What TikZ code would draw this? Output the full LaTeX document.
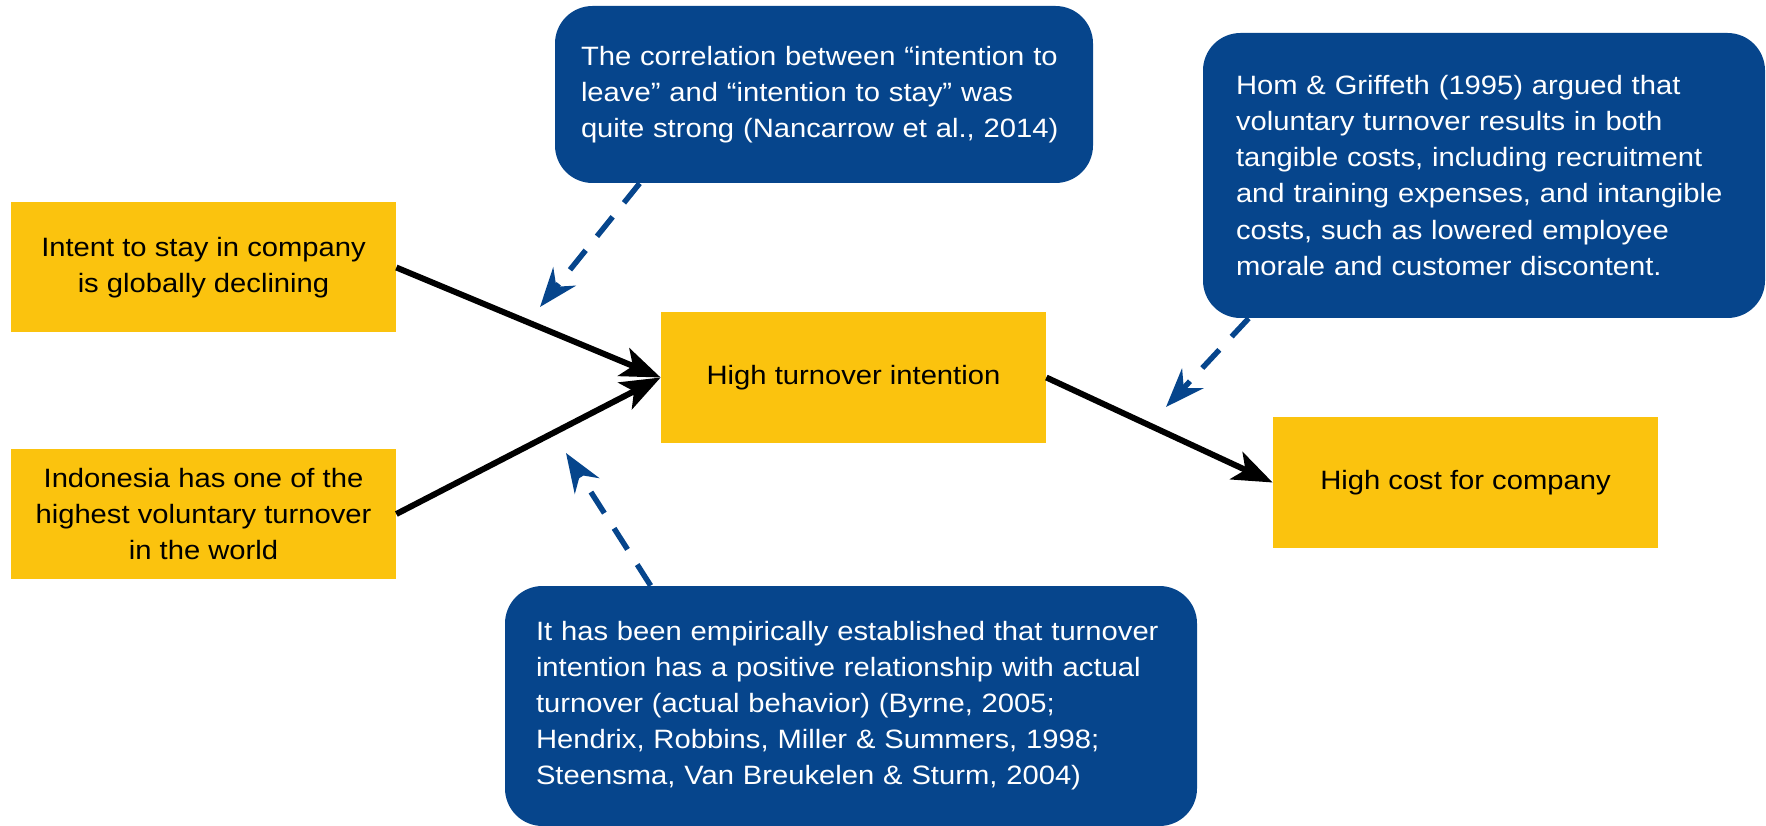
\documentclass[tikz,border=0pt]{standalone}
\usepackage{fontspec}
\setmainfont[FakeStretch=1.1]{Liberation Sans}
\usepackage{tikz}
\usetikzlibrary{arrows.meta}
\definecolor{causeyellow}{RGB}{251,195,14}
\definecolor{noteblue}{RGB}{6,69,140}
\tikzset{font=\fontsize{15.1pt}{20.5pt}\selectfont}

\begin{document}
\begin{tikzpicture}[cause/.style={fill=causeyellow,minimum width={7.7cm},minimum height={2.6cm},align=center},
    note/.style={fill=noteblue,text=white,rounded corners=0.75cm,align=left},
    flow/.style={-{Stealth[length=0.8cm,width=0.6cm,inset=0.2cm]},line width=3.4pt,black},
    hint/.style={-{Stealth[length=0.78cm,width=0.58cm,inset=0.26cm]},line width=3.1pt,noteblue,dash pattern=on 0.5cm off 0.36cm}]
      \useasboundingbox (0,0) rectangle (35.32,16.5);

      \node[cause] (I0) at (4.07,11.15) {Intent to stay in company\\is globally declining};
      \node[cause] (I1) at (4.07,6.22) {Indonesia has one of the\\highest voluntary turnover\\in the world};
      \node[cause] (H) at (17.07,8.95) {High turnover intention};
      \node[cause] (C) at (29.31,6.85) {High cost for company};

      \node[note,inner xsep=0.52cm,text width=9.72cm,minimum height={3.54cm}] (N0) at (16.48,14.61)
        {The correlation between “intention to\\leave” and “intention to stay” was\\quite strong (Nancarrow et al., 2014)};
      \node[note,inner xsep=0.66cm,text width=9.92cm,minimum height={5.7cm}] (N1) at (29.68,12.99)
        {Hom \& Griffeth (1995) argued that\\voluntary turnover results in both\\tangible costs, including recruitment\\and training expenses, and intangible\\costs, such as lowered employee\\morale and customer discontent.};
      \node[note,inner xsep=0.62cm,text width=12.6cm,minimum height={4.8cm}] (N2) at (17.02,2.38)
        {It has been empirically established that turnover\\intention has a positive relationship with actual\\turnover (actual behavior) (Byrne, 2005;\\Hendrix, Robbins, Miller \& Summers, 1998;\\Steensma, Van Breukelen \& Sturm, 2004)};

      \coordinate (T0) at (10.80,10.36);
      \coordinate (T1) at (23.32,8.36);
      \coordinate (T2) at (11.32,7.44);

      \path [flow](I0.east) edge node {} (H.west);
      \path [flow](I1.east) edge node {} (H.west);
      \path [flow](H.east) edge node {} (C.west);

      \path [hint]([xshift=1.70cm]N0.south west) edge node {} (T0);
      \path [hint]([xshift=0.92cm]N1.south west) edge node {} (T1);
      \path [hint]([xshift=2.92cm]N2.north west) edge node {} (T2);
  \end{tikzpicture}
\end{document}
